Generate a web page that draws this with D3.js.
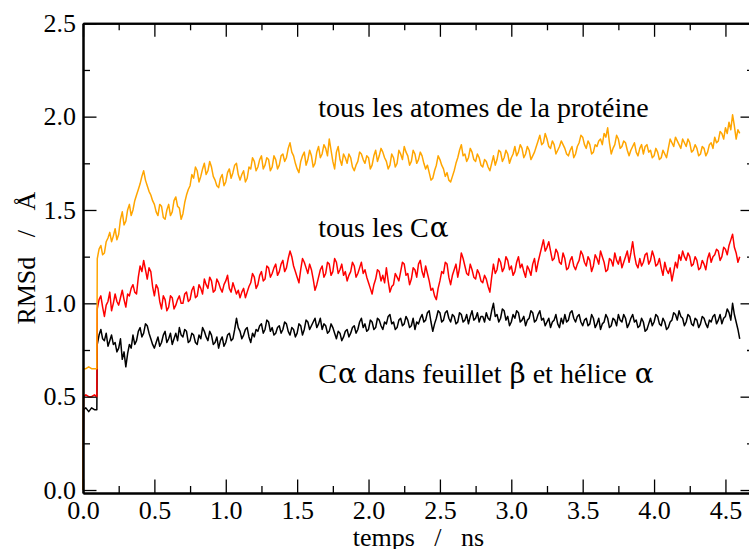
<!DOCTYPE html>
<html>
<head>
<meta charset="utf-8">
<script src="https://cdn.jsdelivr.net/npm/d3@7"></script>
<style>
  html, body { margin: 0; padding: 0; background: #fff; overflow: hidden; }
  #chart text { font-family: "Liberation Serif", "DejaVu Serif", serif; fill: #000; }
</style>
</head>
<body>
<div id="chart"></div>
<script>
var xMajor = [0, 0.5, 1, 1.5, 2, 2.5, 3, 3.5, 4, 4.5];
var xMinor = [0.25, 0.75, 1.25, 1.75, 2.25, 2.75, 3.25, 3.75, 4.25, 4.75];
var yMajor = [0, 0.5, 1, 1.5, 2, 2.5];
var yMinor = [0.25, 0.75, 1.25, 1.75, 2.25];

// 0 - 0.1 ns : restrained part
var startTime = [0, 0.004, 0.02, 0.04, 0.06, 0.08, 0.097];
var startAll = [0.0, 0.65, 0.65, 0.66, 0.65, 0.65, 0.65];
var startCa  = [0.0, 0.50, 0.51, 0.50, 0.50, 0.51, 0.50];
var startSS  = [0.0, 0.43, 0.44, 0.42, 0.44, 0.43, 0.43];

// free run, one value every 0.0125 ns from 0.1 ns (one row = 0.25 ns)
var runStart = 0.1, runStep = 0.0125;
var rmsdAll = [
  1.24, 1.29, 1.31, 1.26, 1.27, 1.33, 1.35, 1.38, 1.33, 1.36, 1.40, 1.34, 1.37, 1.45, 1.49, 1.42, 1.44, 1.50, 1.53, 1.47,
  1.50, 1.55, 1.58, 1.61, 1.64, 1.68, 1.71, 1.66, 1.63, 1.60, 1.58, 1.55, 1.53, 1.49, 1.47, 1.53, 1.52, 1.46, 1.45, 1.50,
  1.53, 1.47, 1.49, 1.55, 1.57, 1.52, 1.51, 1.45, 1.48, 1.54, 1.58, 1.61, 1.63, 1.69, 1.67, 1.73, 1.71, 1.65, 1.68, 1.72,
  1.75, 1.69, 1.71, 1.76, 1.73, 1.68, 1.66, 1.63, 1.62, 1.67, 1.69, 1.63, 1.65, 1.70, 1.72, 1.67, 1.70, 1.74, 1.75, 1.69,
  1.66, 1.69, 1.71, 1.65, 1.67, 1.73, 1.72, 1.78, 1.76, 1.71, 1.73, 1.77, 1.79, 1.72, 1.74, 1.78, 1.77, 1.71, 1.73, 1.79,
  1.77, 1.72, 1.74, 1.79, 1.80, 1.76, 1.78, 1.83, 1.86, 1.81, 1.79, 1.75, 1.72, 1.70, 1.76, 1.79, 1.81, 1.74, 1.77, 1.82,
  1.79, 1.73, 1.75, 1.81, 1.84, 1.78, 1.80, 1.85, 1.83, 1.79, 1.88, 1.82, 1.76, 1.72, 1.81, 1.84, 1.77, 1.74, 1.80, 1.78,
  1.75, 1.80, 1.78, 1.73, 1.71, 1.74, 1.76, 1.81, 1.80, 1.77, 1.75, 1.79, 1.78, 1.72, 1.74, 1.79, 1.82, 1.76, 1.79, 1.83,
  1.81, 1.78, 1.76, 1.72, 1.74, 1.80, 1.78, 1.73, 1.75, 1.82, 1.80, 1.77, 1.84, 1.81, 1.79, 1.74, 1.76, 1.82, 1.80, 1.75,
  1.77, 1.81, 1.79, 1.75, 1.72, 1.74, 1.70, 1.66, 1.67, 1.71, 1.74, 1.79, 1.77, 1.74, 1.72, 1.68, 1.70, 1.66, 1.65, 1.68,
  1.71, 1.75, 1.78, 1.82, 1.85, 1.79, 1.80, 1.76, 1.78, 1.83, 1.81, 1.77, 1.76, 1.80, 1.78, 1.74, 1.73, 1.77, 1.76, 1.73,
  1.71, 1.75, 1.79, 1.74, 1.77, 1.82, 1.81, 1.76, 1.78, 1.82, 1.80, 1.75, 1.78, 1.80, 1.84, 1.79, 1.81, 1.85, 1.83, 1.78,
  1.80, 1.84, 1.82, 1.77, 1.79, 1.81, 1.84, 1.87, 1.90, 1.85, 1.86, 1.91, 1.88, 1.84, 1.83, 1.87, 1.85, 1.80, 1.82, 1.84,
  1.87, 1.85, 1.83, 1.80, 1.79, 1.82, 1.84, 1.78, 1.80, 1.84, 1.86, 1.90, 1.89, 1.85, 1.83, 1.87, 1.85, 1.80, 1.81, 1.85,
  1.84, 1.87, 1.88, 1.85, 1.91, 1.89, 1.94, 1.86, 1.80, 1.83, 1.85, 1.90, 1.88, 1.83, 1.84, 1.87, 1.86, 1.82, 1.79, 1.82,
  1.84, 1.86, 1.81, 1.79, 1.83, 1.85, 1.80, 1.84, 1.85, 1.81, 1.82, 1.78, 1.79, 1.83, 1.81, 1.77, 1.78, 1.82, 1.80, 1.78,
  1.83, 1.88, 1.86, 1.84, 1.89, 1.87, 1.85, 1.83, 1.88, 1.86, 1.84, 1.88, 1.86, 1.81, 1.82, 1.85, 1.83, 1.79, 1.80, 1.84,
  1.83, 1.79, 1.81, 1.85, 1.86, 1.83, 1.89, 1.86, 1.87, 1.92, 1.91, 1.88, 1.94, 1.91, 1.97, 1.93, 2.01, 1.95, 1.88, 1.93,
  1.91
];
var rmsdCa = [
  0.97, 1.02, 1.04, 0.98, 0.93, 0.99, 1.01, 1.06, 0.96, 1.00, 1.05, 1.01, 0.99, 1.03, 1.07, 1.02, 0.98, 1.05, 1.04, 1.08,
  1.10, 1.06, 1.05, 1.14, 1.20, 1.17, 1.23, 1.18, 1.13, 1.19, 1.17, 1.09, 1.04, 1.10, 1.08, 1.01, 0.97, 1.04, 1.02, 0.96,
  0.98, 1.04, 1.03, 0.97, 0.99, 1.02, 1.04, 1.00, 1.00, 1.05, 1.06, 1.01, 1.02, 1.07, 1.09, 1.03, 1.04, 1.10, 1.08, 1.05,
  1.13, 1.10, 1.08, 1.14, 1.12, 1.06, 1.07, 1.13, 1.11, 1.08, 1.06, 1.10, 1.12, 1.15, 1.08, 1.06, 1.11, 1.08, 1.05, 1.07,
  1.03, 1.06, 1.08, 1.03, 1.06, 1.09, 1.11, 1.16, 1.14, 1.08, 1.10, 1.15, 1.17, 1.12, 1.13, 1.20, 1.19, 1.14, 1.16, 1.19,
  1.21, 1.15, 1.17, 1.21, 1.23, 1.17, 1.19, 1.24, 1.28, 1.25, 1.20, 1.17, 1.14, 1.11, 1.18, 1.24, 1.22, 1.19, 1.16, 1.21,
  1.18, 1.13, 1.07, 1.10, 1.14, 1.18, 1.20, 1.14, 1.16, 1.22, 1.21, 1.15, 1.17, 1.24, 1.22, 1.16, 1.18, 1.21, 1.15, 1.17,
  1.12, 1.15, 1.17, 1.22, 1.20, 1.14, 1.16, 1.19, 1.22, 1.16, 1.18, 1.14, 1.11, 1.08, 1.05, 1.10, 1.13, 1.18, 1.17, 1.12,
  1.15, 1.11, 1.19, 1.12, 1.06, 1.09, 1.10, 1.16, 1.14, 1.12, 1.17, 1.22, 1.21, 1.15, 1.16, 1.10, 1.13, 1.19, 1.18, 1.14,
  1.21, 1.23, 1.17, 1.14, 1.20, 1.16, 1.12, 1.07, 1.08, 1.04, 1.02, 1.08, 1.12, 1.17, 1.16, 1.22, 1.21, 1.14, 1.10, 1.15,
  1.18, 1.21, 1.14, 1.19, 1.27, 1.24, 1.20, 1.16, 1.15, 1.21, 1.18, 1.14, 1.13, 1.18, 1.16, 1.12, 1.11, 1.15, 1.13, 1.09,
  1.06, 1.14, 1.21, 1.16, 1.18, 1.24, 1.22, 1.17, 1.19, 1.25, 1.23, 1.18, 1.20, 1.15, 1.17, 1.22, 1.25, 1.19, 1.21, 1.17,
  1.14, 1.20, 1.18, 1.15, 1.21, 1.24, 1.17, 1.22, 1.26, 1.30, 1.34, 1.28, 1.30, 1.33, 1.28, 1.23, 1.24, 1.29, 1.27, 1.22,
  1.21, 1.27, 1.24, 1.18, 1.19, 1.23, 1.25, 1.20, 1.18, 1.21, 1.23, 1.28, 1.26, 1.22, 1.20, 1.25, 1.23, 1.17, 1.20, 1.26,
  1.24, 1.21, 1.28, 1.25, 1.22, 1.17, 1.18, 1.24, 1.23, 1.20, 1.27, 1.23, 1.21, 1.25, 1.19, 1.22, 1.25, 1.28, 1.22, 1.27,
  1.33, 1.26, 1.21, 1.19, 1.24, 1.20, 1.22, 1.26, 1.27, 1.21, 1.23, 1.28, 1.25, 1.20, 1.21, 1.24, 1.19, 1.15, 1.22, 1.18,
  1.16, 1.19, 1.12, 1.17, 1.22, 1.19, 1.26, 1.23, 1.28, 1.25, 1.23, 1.27, 1.25, 1.20, 1.21, 1.25, 1.23, 1.18, 1.19, 1.23,
  1.21, 1.18, 1.24, 1.27, 1.22, 1.25, 1.26, 1.29, 1.28, 1.23, 1.25, 1.30, 1.29, 1.26, 1.31, 1.34, 1.37, 1.30, 1.27, 1.22,
  1.25
];
var rmsdSS = [
  0.78, 0.83, 0.86, 0.81, 0.80, 0.84, 0.77, 0.80, 0.83, 0.78, 0.79, 0.74, 0.76, 0.81, 0.70, 0.74, 0.66, 0.73, 0.78, 0.76,
  0.83, 0.78, 0.80, 0.85, 0.87, 0.82, 0.84, 0.89, 0.88, 0.84, 0.81, 0.78, 0.76, 0.79, 0.82, 0.77, 0.79, 0.83, 0.85, 0.79,
  0.81, 0.84, 0.78, 0.81, 0.84, 0.80, 0.87, 0.83, 0.82, 0.86, 0.85, 0.79, 0.80, 0.84, 0.83, 0.79, 0.78, 0.83, 0.81, 0.87,
  0.85, 0.82, 0.80, 0.85, 0.83, 0.78, 0.79, 0.82, 0.76, 0.80, 0.82, 0.77, 0.79, 0.83, 0.84, 0.80, 0.81, 0.86, 0.92, 0.87,
  0.85, 0.81, 0.83, 0.86, 0.87, 0.82, 0.79, 0.84, 0.82, 0.86, 0.85, 0.88, 0.89, 0.84, 0.86, 0.91, 0.90, 0.85, 0.87, 0.83,
  0.84, 0.87, 0.88, 0.84, 0.86, 0.90, 0.89, 0.85, 0.83, 0.87, 0.86, 0.82, 0.84, 0.89, 0.88, 0.83, 0.86, 0.91, 0.90, 0.86,
  0.88, 0.90, 0.92, 0.87, 0.89, 0.92, 0.86, 0.89, 0.88, 0.84, 0.85, 0.89, 0.87, 0.84, 0.81, 0.85, 0.84, 0.80, 0.82, 0.85,
  0.86, 0.82, 0.84, 0.87, 0.88, 0.84, 0.86, 0.90, 0.92, 0.87, 0.89, 0.85, 0.86, 0.91, 0.90, 0.86, 0.87, 0.92, 0.91, 0.88,
  0.86, 0.90, 0.89, 0.93, 0.94, 0.89, 0.90, 0.86, 0.87, 0.91, 0.92, 0.88, 0.89, 0.93, 0.91, 0.87, 0.88, 0.92, 0.86, 0.90,
  0.89, 0.92, 0.94, 0.90, 0.91, 0.95, 0.96, 0.90, 0.85, 0.89, 0.92, 0.96, 0.95, 0.90, 0.91, 0.95, 0.96, 0.92, 0.90, 0.94,
  0.93, 0.89, 0.90, 0.95, 0.94, 0.90, 0.91, 0.94, 0.89, 0.93, 0.96, 0.91, 0.92, 0.95, 0.90, 0.93, 0.93, 0.90, 0.95, 0.92,
  0.91, 0.96, 1.00, 0.93, 0.94, 0.90, 0.92, 0.97, 0.96, 0.91, 0.93, 0.88, 0.90, 0.94, 0.92, 0.96, 0.95, 0.90, 0.91, 0.93,
  0.88, 0.91, 0.92, 0.96, 0.95, 0.90, 0.91, 0.94, 0.96, 0.91, 0.92, 0.88, 0.90, 0.92, 0.87, 0.90, 0.91, 0.94, 0.89, 0.87,
  0.92, 0.89, 0.94, 0.90, 0.91, 0.95, 0.96, 0.92, 0.90, 0.93, 0.94, 0.90, 0.88, 0.91, 0.92, 0.88, 0.89, 0.94, 0.92, 0.87,
  0.89, 0.92, 0.86, 0.89, 0.90, 0.94, 0.92, 0.87, 0.88, 0.92, 0.91, 0.88, 0.94, 0.91, 0.90, 0.94, 0.92, 0.87, 0.89, 0.92,
  0.94, 0.90, 0.91, 0.87, 0.88, 0.92, 0.90, 0.85, 0.86, 0.89, 0.92, 0.88, 0.90, 0.94, 0.93, 0.89, 0.88, 0.92, 0.90, 0.86,
  0.87, 0.90, 0.91, 0.95, 0.94, 0.91, 0.96, 0.93, 0.92, 0.88, 0.90, 0.94, 0.93, 0.89, 0.88, 0.92, 0.91, 0.87, 0.89, 0.93,
  0.92, 0.89, 0.87, 0.91, 0.90, 0.93, 0.94, 0.89, 0.91, 0.94, 0.89, 0.92, 0.93, 0.97, 0.95, 0.91, 1.00, 0.94, 0.90, 0.86,
  0.81
];

var seriesNames = ["tous les atomes de la protéine", "tous les Cα", "Cα dans feuillet β et hélice α"];

var width = 749, height = 549;
var tickFont = 26, labelFont = 28;
var majorLen = 13.5, minorLen = 7;

var svg = d3.select("#chart").append("svg")
  .attr("width", width)
  .attr("height", height);

var x = d3.scaleLinear().domain([0, 4.7]).range([83, 754]);
var y = d3.scaleLinear().domain([-0.016, 2.5]).range([493, 23.3]);

function toPoints(startVals, runVals) {
  var pts = startTime.map(function (t, i) { return [t, startVals[i]]; });
  runVals.forEach(function (v, i) { pts.push([runStart + i * runStep, v]); });
  return pts;
}

var series = [
  { name: seriesNames[0], pts: toPoints(startAll, rmsdAll), color: "#ffa500", lx: 1.648, ly: 2.0 },
  { name: seriesNames[1], pts: toPoints(startCa, rmsdCa), color: "#ff0000", lx: 1.648, ly: 1.357 },
  { name: seriesNames[2], pts: toPoints(startSS, rmsdSS), color: "#000000", lx: 1.648, ly: 0.573 }
];

var line = d3.line()
  .x(function (d) { return x(d[0]); })
  .y(function (d) { return y(d[1]); });

svg.append("g").selectAll("path")
  .data(series.slice().reverse())
  .enter().append("path")
  .attr("d", function (d) { return line(d.pts); })
  .attr("fill", "none")
  .attr("stroke", function (d) { return d.color; })
  .attr("stroke-width", 1.5)
  .attr("stroke-linejoin", "round");

// frame + ticks, all pointing inward
function styleAxis(g) {
  g.select(".domain").attr("stroke", "#000").attr("stroke-width", 2);
  g.selectAll(".tick line").attr("stroke", "#000").attr("stroke-width", 1.3);
  g.selectAll(".tick text").style("font-size", tickFont + "px");
}
var fmt = d3.format(".1f");

svg.append("g").attr("transform", "translate(0," + y.range()[0] + ")")
  .call(d3.axisBottom(x).tickValues(xMajor).tickFormat(fmt).tickSizeInner(-majorLen).tickSizeOuter(0).tickPadding(7.5))
  .call(styleAxis);
svg.append("g").attr("transform", "translate(0," + y.range()[0] + ")")
  .call(d3.axisBottom(x).tickValues(xMinor).tickFormat("").tickSizeInner(-minorLen).tickSizeOuter(0))
  .call(styleAxis);
svg.append("g").attr("transform", "translate(0," + y.range()[1] + ")")
  .call(d3.axisTop(x).tickValues(xMajor).tickFormat("").tickSizeInner(-majorLen).tickSizeOuter(0))
  .call(styleAxis);
svg.append("g").attr("transform", "translate(0," + y.range()[1] + ")")
  .call(d3.axisTop(x).tickValues(xMinor).tickFormat("").tickSizeInner(-minorLen).tickSizeOuter(0))
  .call(styleAxis);

svg.append("g").attr("transform", "translate(" + x.range()[0] + ",0)")
  .call(d3.axisLeft(y).tickValues(yMajor).tickFormat(fmt).tickSizeInner(-majorLen).tickSizeOuter(0).tickPadding(7))
  .call(styleAxis);
svg.append("g").attr("transform", "translate(" + x.range()[0] + ",0)")
  .call(d3.axisLeft(y).tickValues(yMinor).tickFormat("").tickSizeInner(-minorLen).tickSizeOuter(0))
  .call(styleAxis);
svg.append("g").attr("transform", "translate(" + x.range()[1] + ",0)")
  .call(d3.axisRight(y).tickValues(yMajor).tickFormat("").tickSizeInner(-majorLen).tickSizeOuter(0))
  .call(styleAxis);
svg.append("g").attr("transform", "translate(" + x.range()[1] + ",0)")
  .call(d3.axisRight(y).tickValues(yMinor).tickFormat("").tickSizeInner(-minorLen).tickSizeOuter(0))
  .call(styleAxis);

svg.selectAll("g.tick text").attr("fill", "#000").style("font-family", "'Liberation Serif', serif");

// series labels inside the plot; greek letters set in a wider face, like grace's Symbol font
var greek = /([αβ])/;
svg.append("g").selectAll("text")
  .data(series)
  .enter().append("text")
  .attr("x", function (d) { return x(d.lx); })
  .attr("y", function (d) { return y(d.ly); })
  .style("font-size", labelFont + "px")
  .style("white-space", "pre")
  .each(function (d) {
    var t = d3.select(this);
    d.name.split(greek).forEach(function (part) {
      if (!part) return;
      var s = t.append("tspan").text(part);
      if (greek.test(part)) s.style("font-family", "'DejaVu Serif', serif").attr("dx", 1);
    });
  });

// axis titles
svg.append("text")
  .attr("x", (x.range()[0] + x.range()[1]) / 2)
  .attr("y", 546)
  .attr("text-anchor", "middle")
  .style("font-size", tickFont + "px")
  .style("white-space", "pre")
  .text("temps   /   ns");

svg.append("text")
  .attr("transform", "translate(35," + (y.range()[0] + y.range()[1]) / 2 + ") rotate(-90)")
  .attr("text-anchor", "middle")
  .style("font-size", tickFont + "px")
  .style("white-space", "pre")
  .text("RMSd   /   Å");
</script>
</body>
</html>
